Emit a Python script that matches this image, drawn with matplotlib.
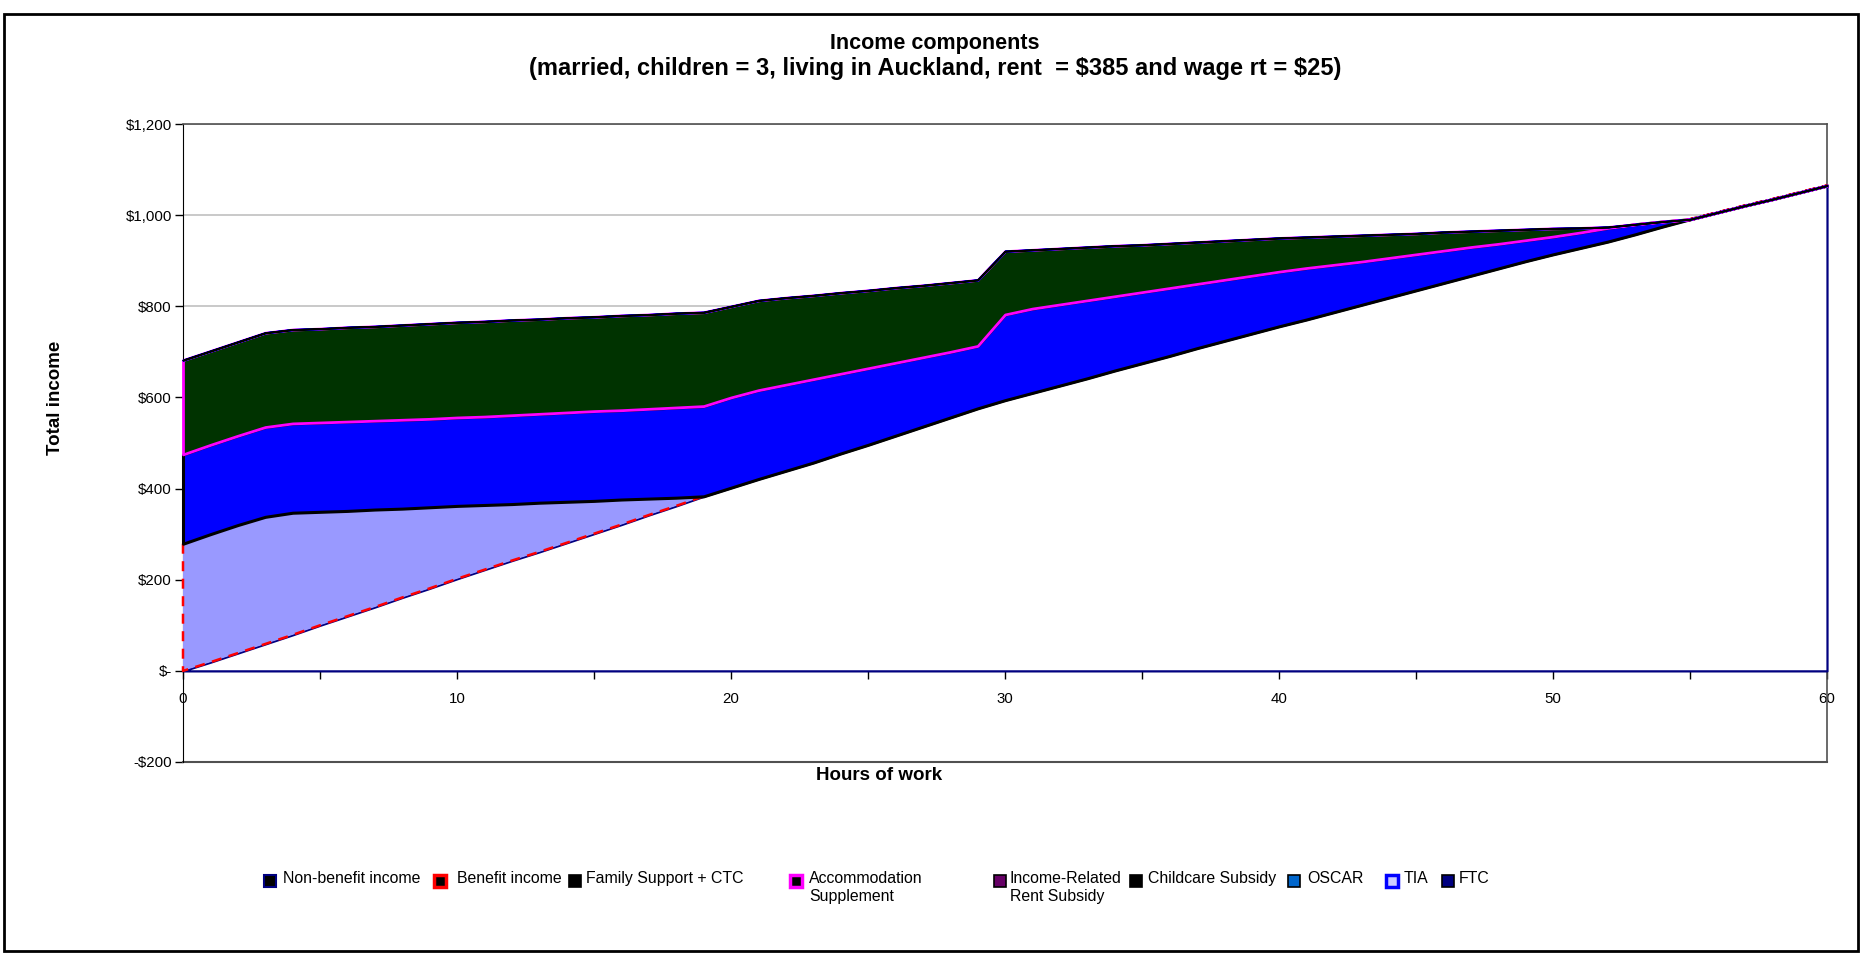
"""
Income components stacked area chart (married, 3 children, Auckland).
"""

import matplotlib
matplotlib.use("Agg")
import numpy as np
import matplotlib.pyplot as plt
from matplotlib.patches import Rectangle

plt.rcParams['font.family'] = ['Liberation Sans', 'DejaVu Sans']
plt.rcParams['text.parse_math'] = False

# hours of work, 0..60
hours = list(range(61))

non_benefit = [0, 19, 39, 59, 79, 100, 120, 140, 161, 181,
               202, 222, 242, 261, 281, 301, 321, 342, 362, 383,
               402, 421, 439, 457, 477, 496, 516, 536, 556, 576,
               594, 610, 626, 642, 659, 675, 691, 708, 724, 740,
               756, 771, 787, 803, 819, 835, 851, 867, 883, 899,
               914, 928, 942, 958, 975, 991, 1006, 1021, 1035, 1050,
               1065]

benefit = [279, 281, 281, 279, 268, 249, 231, 214, 195, 178,
           160, 142, 124, 108, 90, 72, 55, 36, 18, 0,
           0, 0, 0, 0, 0, 0, 0, 0, 0, 0,
           0, 0, 0, 0, 0, 0, 0, 0, 0, 0,
           0, 0, 0, 0, 0, 0, 0, 0, 0, 0,
           0, 0, 0, 0, 0, 0, 0, 0, 0, 0,
           0]

family_support = [196, 196, 196, 197, 196, 196, 196, 195, 195, 194,
                  194, 194, 195, 195, 196, 197, 196, 197, 198, 198,
                  198, 195, 189, 183, 175, 168, 160, 152, 144, 137,
                  188, 185, 178, 171, 163, 156, 149, 141, 134, 127,
                  120, 113, 104, 95, 87, 79, 71, 63, 54, 46,
                  39, 34, 30, 22, 11, 0, 0, 0, 0, 0,
                  0]

accommodation = [207, 206, 206, 207, 206, 206, 207, 207, 208, 209,
                 209, 209, 209, 208, 208, 207, 208, 207, 207, 206,
                 200, 197, 191, 184, 178, 171, 165, 158, 152, 145,
                 139, 129, 123, 117, 111, 104, 98, 92, 86, 80,
                 74, 68, 63, 58, 52, 46, 41, 35, 30, 24,
                 18, 10, 2, 0, 0, 0, 0, 0, 0, 0,
                 0]

# these components are zero at every hour for this household
income_related_rent = [0] * 61
childcare = [0] * 61
oscar = [0] * 61
tia = [0] * 61
ftc = [0] * 61

y_ticks = [-200, 0, 200, 400, 600, 800, 1000, 1200]
y_tick_labels = ['-$200', '$-', '$200', '$400', '$600', '$800', '$1,000', '$1,200']
x_ticks = [0, 5, 10, 15, 20, 25, 30, 35, 40, 45, 50, 55, 60]
x_tick_labels = ['0', '', '10', '', '20', '', '30', '', '40', '', '50', '', '60']

legend_labels = ['Non-benefit income', 'Benefit income', 'Family Support + CTC',
                 'Accommodation\nSupplement', 'Income-Related\nRent Subsidy',
                 'Childcare Subsidy', 'OSCAR', 'TIA', 'FTC']

W, H = 1865, 957


def fx(px):
    return px / W


def fy(px):
    return 1 - px / H


fig = plt.figure(figsize=(W / 100, H / 100), dpi=100)
ax = fig.add_axes([fx(183), fy(762), fx(1827) - fx(183), fy(124) - fy(762)])

# (values, face, edge, linestyle, linewidth)
layers = [
    (non_benefit, 'white', '#000080', '-', 1.6),
    (benefit, '#9999FF', '#FF0000', (0, (4, 3)), 1.8),
    (family_support, '#0000FF', 'black', '-', 2.2),
    (accommodation, '#003300', '#FF00FF', '-', 2.0),
    (income_related_rent, '#660066', 'black', '-', 1.0),
    (childcare, 'black', 'black', '-', 1.0),
    (oscar, '#0066CC', '#0000FF', '-', 1.0),
    (tia, '#CCCCFF', '#0000FF', '-', 1.5),
    (ftc, '#000080', 'black', '-', 1.2),
]

base = np.zeros(len(hours))
for i, (vals, face, edge, ls, lw) in enumerate(layers):
    top = base + np.array(vals)
    ax.fill_between(hours, base, top, facecolor=face, edgecolor=edge,
                    linestyle=ls, linewidth=lw, zorder=3 + i, clip_on=False)
    base = top

ax.set_xlim(0, 60)
ax.set_ylim(-200, 1200)
ax.set_yticks(y_ticks)
ax.set_yticklabels(y_tick_labels)
ax.set_xticks(x_ticks)
ax.set_xticklabels(x_tick_labels)

ax.yaxis.grid(True, color='#C0C0C0', linewidth=1.2)
ax.set_axisbelow(True)

ax.spines['bottom'].set_position(('data', 0))
ax.spines['bottom'].set_color('black')
ax.spines['left'].set_color('black')
for side in ['top', 'right']:
    ax.spines[side].set_color('#505050')
    ax.spines[side].set_linewidth(1.2)
ax.axhline(-200, color='#505050', linewidth=1.5, clip_on=False, zorder=2)

ax.tick_params(axis='both', direction='out', length=6, width=1,
               labelsize=10.8, colors='black')
ax.tick_params(axis='y', pad=2)
ax.tick_params(axis='x', pad=9)

fig.text(fx(56), fy(398), 'Total income', rotation=90, ha='center', va='center',
         fontsize=13.5, fontweight='bold')
fig.text(fx(879), fy(775), 'Hours of work', ha='center', va='center',
         fontsize=13.5, fontweight='bold')

fig.text(0.5012, fy(44), 'Income components', ha='center', va='center',
         fontsize=15.5, fontweight='bold')
fig.text(0.5012, fy(68),
         '(married, children = 3, living in Auckland, rent  = $385 and wage rt = $25)',
         ha='center', va='center', fontsize=17, fontweight='bold')

# legend drawn by hand to copy the wrapped, fixed-width layout
legend_face = ['black', 'black', 'black', 'black', '#660066', 'black',
               '#0066CC', '#CCCCFF', '#000080']
legend_edge = ['#000080', '#FF0000', 'black', '#FF00FF', 'black', 'black',
               'black', '#0000FF', 'black']
legend_lw = [1.5, 2.5, 1.2, 2.5, 1.2, 1.2, 1.2, 2.5, 1.2]
swatch_x = [264, 434, 569, 790, 994, 1130, 1288, 1386, 1442]
text_x = [283, 457, 586, 809, 1010, 1148, 1307, 1404, 1459]
row_y = 881
for lab, fc, ec, lw, sx, tx in zip(legend_labels, legend_face, legend_edge,
                                   legend_lw, swatch_x, text_x):
    fig.add_artist(Rectangle((fx(sx), fy(row_y + 6)), fx(12), 12 / H,
                             transform=fig.transFigure, facecolor=fc,
                             edgecolor=ec, linewidth=lw))
    fig.text(fx(tx), fy(row_y - 10), lab, ha='left', va='top',
             fontsize=11.4, linespacing=1.25)

# outer chart border
fig.add_artist(Rectangle((fx(4), fy(951)), fx(1858) - fx(4), fy(14) - fy(951),
                         transform=fig.transFigure, fill=False,
                         edgecolor='black', linewidth=2))

fig.savefig('out.png', dpi=100, facecolor='white')
